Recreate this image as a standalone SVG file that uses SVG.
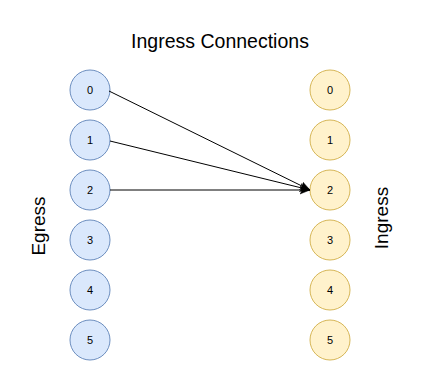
<svg xmlns="http://www.w3.org/2000/svg" width="421" height="381" viewBox="0 0 421 381">
  <style>
    .eg { fill: #dae8fc; stroke: #6c8ebf; stroke-width: 1; }
    .in { fill: #fff2cc; stroke: #d6b656; stroke-width: 1; }
    .num { font-family: "Liberation Sans", Arial, sans-serif; font-size: 11px; fill: #000; text-anchor: middle; }
    .big { font-family: "Liberation Sans", Arial, sans-serif; font-size: 19px; fill: #000; text-anchor: middle; }
    .title { font-size: 19.5px; }
    .edge { stroke: #000; stroke-width: 1; fill: none; }
  </style>
  <defs>
    <marker id="arrow" viewBox="0 0 10 10" refX="10" refY="5" markerWidth="10" markerHeight="10" markerUnits="userSpaceOnUse" orient="auto">
      <path d="M0,1 L10,5 L0,9 L2.5,5 Z" fill="#000" stroke="#000" stroke-width="0.5"/>
    </marker>
  </defs>
  <rect width="421" height="381" fill="#fff"/>

  <text class="big title" x="220" y="48">Ingress Connections</text>
  <text class="big" transform="translate(45,226) rotate(-90)">Egress</text>
  <text class="big" transform="translate(388,218) rotate(-90)">Ingress</text>

  <!-- egress nodes -->
  <g id="egress-0"><circle class="eg" cx="90" cy="90" r="20"/><text class="num" x="90" y="94">0</text></g>
  <g id="egress-1"><circle class="eg" cx="90" cy="140" r="20"/><text class="num" x="90" y="144">1</text></g>
  <g id="egress-2"><circle class="eg" cx="90" cy="190" r="20"/><text class="num" x="90" y="194">2</text></g>
  <g id="egress-3"><circle class="eg" cx="90" cy="240" r="20"/><text class="num" x="90" y="244">3</text></g>
  <g id="egress-4"><circle class="eg" cx="90" cy="290" r="20"/><text class="num" x="90" y="294">4</text></g>
  <g id="egress-5"><circle class="eg" cx="90" cy="340" r="20"/><text class="num" x="90" y="344">5</text></g>

  <!-- ingress nodes -->
  <g id="ingress-0"><circle class="in" cx="330" cy="90" r="20"/><text class="num" x="330" y="94">0</text></g>
  <g id="ingress-1"><circle class="in" cx="330" cy="140" r="20"/><text class="num" x="330" y="144">1</text></g>
  <g id="ingress-2"><circle class="in" cx="330" cy="190" r="20"/><text class="num" x="330" y="194">2</text></g>
  <g id="ingress-3"><circle class="in" cx="330" cy="240" r="20"/><text class="num" x="330" y="244">3</text></g>
  <g id="ingress-4"><circle class="in" cx="330" cy="290" r="20"/><text class="num" x="330" y="294">4</text></g>
  <g id="ingress-5"><circle class="in" cx="330" cy="340" r="20"/><text class="num" x="330" y="344">5</text></g>

  <!-- connectors -->
  <g id="connectors">
    <line class="edge" x1="109" y1="91" x2="310" y2="190" marker-end="url(#arrow)"/>
    <line class="edge" x1="110" y1="141" x2="310" y2="190" marker-end="url(#arrow)"/>
    <line class="edge" x1="110" y1="190" x2="310" y2="190" marker-end="url(#arrow)"/>
  </g>
</svg>
